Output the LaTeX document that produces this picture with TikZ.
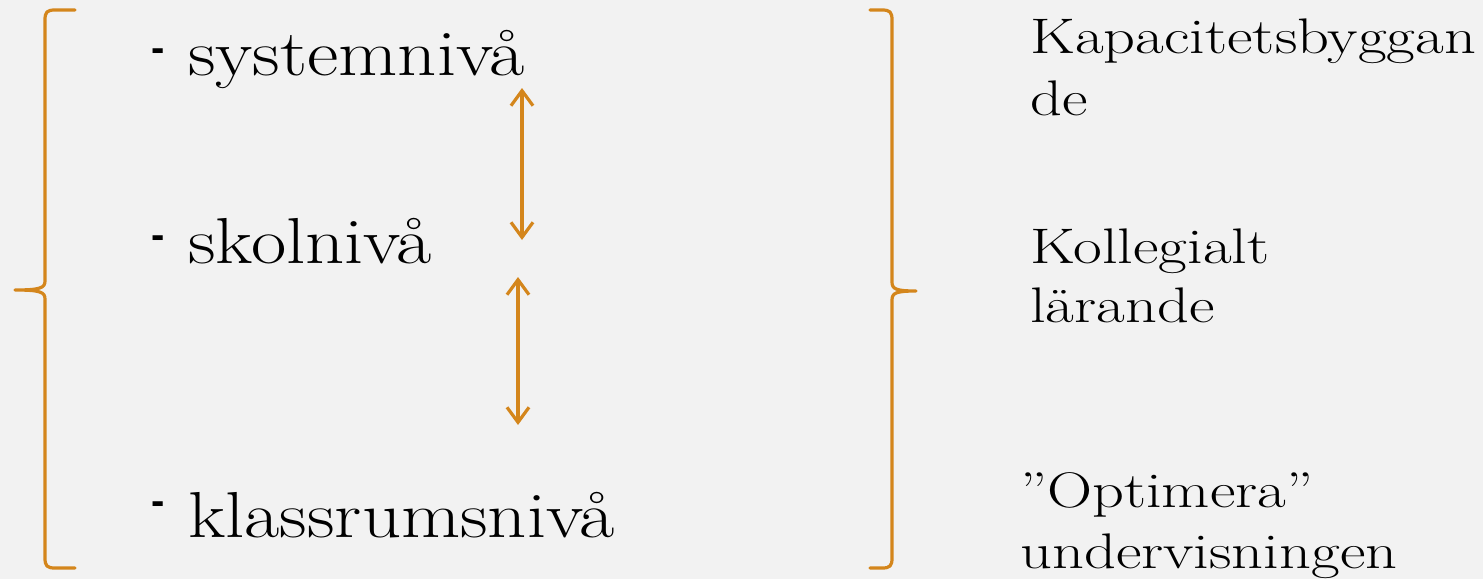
\documentclass[tikz,border=0pt]{standalone}
\usepackage{fontspec}
\usepackage{graphicx}
\usetikzlibrary{arrows.meta}
\newfontfamily\dashfont{Liberation Sans}
\definecolor{bg}{HTML}{F2F2F2}
\definecolor{org}{HTML}{D4861C}
\begin{document}
\begin{tikzpicture}[x=1pt,y=-1pt,
 lvl/.style={anchor=base west, inner sep=0pt, font=\fontsize{65}{72}\selectfont},
 rt/.style={anchor=base west, inner sep=0pt, font=\fontsize{50}{58}\selectfont},
 bul/.style={anchor=base, inner sep=0pt, font=\dashfont\bfseries\fontsize{40}{44}\selectfont},
 bracepath/.style={draw=org, line width=3.2pt, line cap=round, line join=round},
 dbl/.style={draw=org, line width=3.2pt, {Straight Barb[length=15pt,width=22pt]}-{Straight Barb[length=15pt,width=22pt]}}]
\fill[bg] (0,0) rectangle (1483,579);
\useasboundingbox (0,0) rectangle (1483,579);

% left brace
\draw[bracepath] (75,10) -- (55,10) .. controls (47,10) and (45,12) .. (45,20)
  -- (45,281) .. controls (45,288) and (40,290) .. (15,290)
  .. controls (40,290) and (45,292) .. (45,299)
  -- (45,558) .. controls (45,566) and (47,568) .. (55,568) -- (75,568);
% right brace
\draw[bracepath] (870,10) -- (882,10) .. controls (890,10) and (892,12) .. (892,20)
  -- (892,282) .. controls (892,289) and (896,291) .. (916,291)
  .. controls (896,291) and (892,293) .. (892,300)
  -- (892,558) .. controls (892,566) and (890,568) .. (882,568) -- (870,568);

% level bullets and texts
\node[bul] (b1) at (158,61) {-};
\node[lvl] (sys) at (188,75) {\scalebox{1.18}[1]{systemnivå}};
\node[bul] (b2) at (158,248) {-};
\node[lvl] (sko) at (188,263) {\scalebox{1.18}[1]{skolnivå}};
\node[bul] (b3) at (158,514) {-};
\node[lvl] (kla) at (188,537) {\scalebox{1.18}[1]{klassrumsnivå}};

% arrows
\coordinate (a1t) at (522,88);
\coordinate (a1b) at (522,240);
\coordinate (a2t) at (518,277);
\coordinate (a2b) at (518,425);
\draw[dbl] (a1t) -- (a1b);
\draw[dbl] (a2t) -- (a2b);

% right texts
\node[rt] (r1a) at (1030,53) {\scalebox{1.25}[1]{Kapacitetsbyggan}};
\node[rt] (r1b) at (1030,115) {\scalebox{1.25}[1]{de}};
\node[rt] (r2a) at (1030,263) {\scalebox{1.25}[1]{Kollegialt}};
\node[rt] (r2b) at (1030,322) {\scalebox{1.25}[1]{lärande}};
\node[rt] (r3a) at (1020,507) {\scalebox{1.25}[1]{”Optimera”}};
\node[rt] (r3b) at (1020,568) {\scalebox{1.25}[1]{undervisningen}};
\end{tikzpicture}
\end{document}
